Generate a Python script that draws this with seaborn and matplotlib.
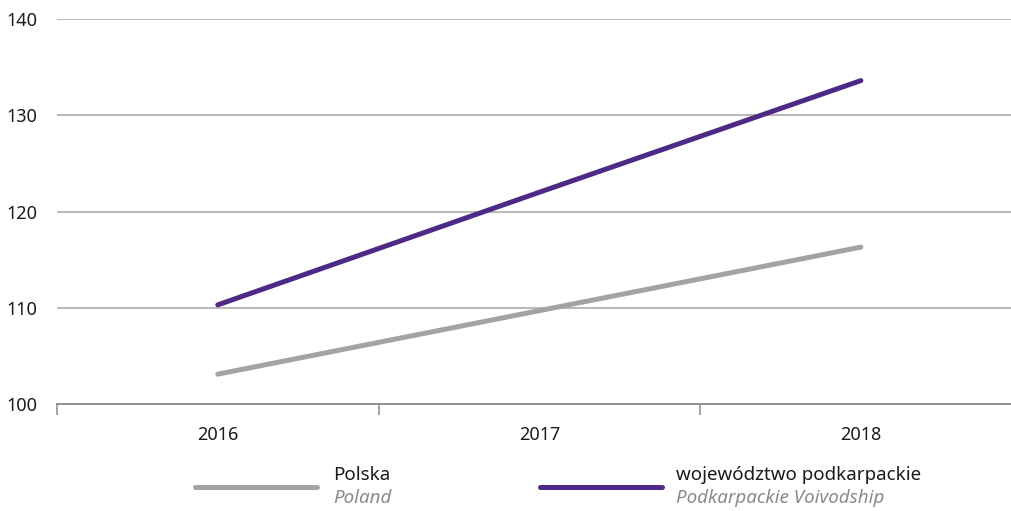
import matplotlib
matplotlib.use("Agg")
import matplotlib.pyplot as plt
import seaborn as sns
import pandas as pd
from matplotlib.lines import Line2D

years = ["2016", "2017", "2018"]
polska = [103.1, 109.7, 116.3]
podkarpackie = [110.3, 122.0, 133.6]
series_pl = ["Polska", "województwo podkarpackie"]
series_en = ["Poland", "Podkarpackie Voivodship"]
yticks = [100, 110, 120, 130, 140]

colors = ["#a3a3a3", "#4d2a86"]

sns.set_theme(style="white")
plt.rcParams["font.family"] = ["Noto Sans", "DejaVu Sans"]

df = pd.DataFrame({
    "year": years * 2,
    "x": [0, 1, 2] * 2,
    "value": polska + podkarpackie,
    "series": [series_pl[0]] * 3 + [series_pl[1]] * 3,
})

fig = plt.figure(figsize=(10.12, 5.11), dpi=100)
ax = fig.add_axes([57 / 1012, 1 - 404 / 511, 1 - 57 / 1012, (404 - 19) / 511])

sns.lineplot(data=df, x="x", y="value", hue="series", palette=colors,
             linewidth=3.6, ax=ax, legend=False, solid_capstyle="round")

ax.set_xlim(-0.5, 2.47)
ax.set_ylim(100, 140)
ax.set_yticks(yticks)
ax.set_yticklabels([str(v) for v in yticks])
ax.yaxis.grid(True, color="#b3b3b3", linewidth=1.3)
ax.set_axisbelow(True)
for s in ["top", "right", "left"]:
    ax.spines[s].set_visible(False)
ax.spines["bottom"].set_color("#8c8c8c")
ax.spines["bottom"].set_linewidth(1.3)
ax.set_xticks([0, 1, 2])
ax.set_xticklabels(years)
ax.set_xticks([-0.5, 0.5, 1.5], minor=True)
ax.tick_params(axis="x", which="major", bottom=False, length=0, pad=16, labelsize=13, colors="#1a1a1a")
ax.tick_params(axis="x", which="minor", bottom=True, length=8, width=1.1, color="#8c8c8c", direction="out")
ax.tick_params(axis="y", length=0, pad=14, labelsize=13, colors="#1a1a1a")
ax.set_xlabel("")
ax.set_ylabel("")

# legend
W, H = 1012, 511
for (x0, x1, xt), pl, en, c in zip([(195, 317, 333), (540, 662, 676)], series_pl, series_en, colors):
    fig.add_artist(Line2D([x0 / W, x1 / W], [1 - 487 / H] * 2, color=c, linewidth=3.6,
                          solid_capstyle="round", transform=fig.transFigure))
    fig.text(xt / W, 1 - 475 / H, pl, fontsize=13.5, color="#1a1a1a", va="center", ha="left")
    fig.text(xt / W, 1 - 498 / H, en, fontsize=13.5, color="#8a8a8a", style="italic",
             va="center", ha="left")

fig.savefig("out.png", dpi=100)
